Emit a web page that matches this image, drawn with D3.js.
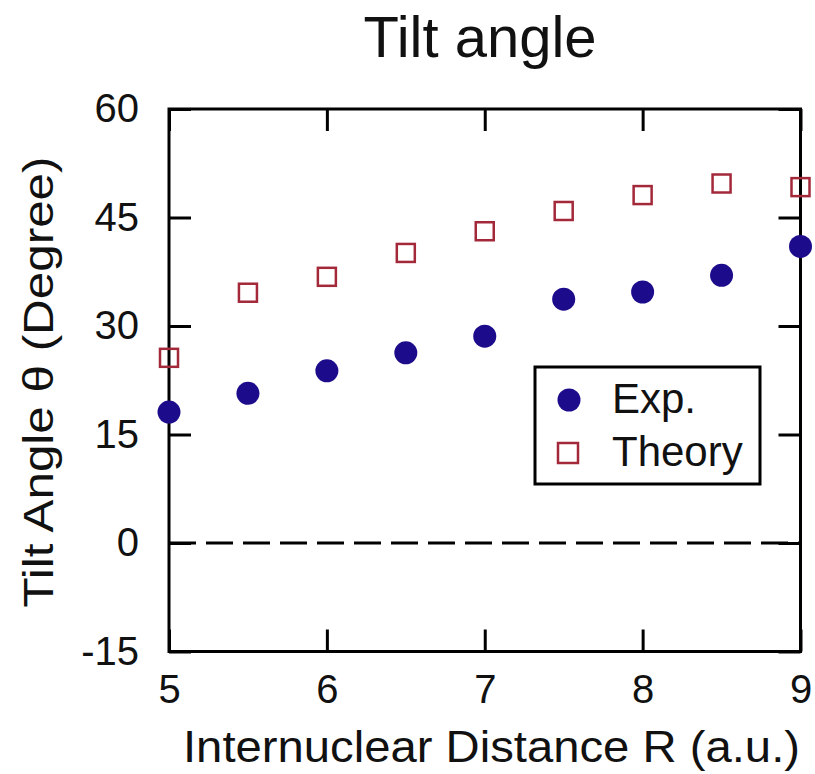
<!DOCTYPE html>
<html>
<head>
<meta charset="utf-8">
<script src="https://cdn.jsdelivr.net/npm/d3@7"></script>
<style>
  body { margin: 0; background: #fff; }
  svg text { font-family: "Liberation Sans", Arial, sans-serif; fill: #111; }
</style>
</head>
<body>
<div id="chart"></div>
<script>
// values
const distance = [5, 5.5, 6, 6.5, 7, 7.5, 8, 8.5, 9];
const expAngle = [18.1, 20.7, 23.8, 26.3, 28.6, 33.7, 34.7, 37.0, 41.0];
const theoryAngle = [25.6, 34.6, 36.8, 40.1, 43.1, 45.9, 48.1, 49.7, 49.2];
const xTicks = [5, 6, 7, 8, 9];
const yTicks = [-15, 0, 15, 30, 45, 60];

const width = 815, height = 774;
const plotLeft = 169, plotRight = 800.5, plotTop = 109, plotBottom = 651.5;

const svg = d3.select("#chart")
    .append("svg")
    .attr("width", width)
    .attr("height", height);

const x = d3.scaleLinear().domain([5, 9]).range([plotLeft, plotRight]);
const y = d3.scaleLinear().domain([-15, 60]).range([plotBottom, plotTop]);

// zero line
svg.append("line")
    .attr("x1", plotLeft).attr("x2", plotRight)
    .attr("y1", y(0)).attr("y2", y(0))
    .attr("stroke", "#000")
    .attr("stroke-width", 3)
    .attr("stroke-dasharray", "27,10");

// frame + inward ticks on all four sides
const tick = 22;
const plain = (d) => String(d);   // keep the ASCII hyphen in "-15"
function styleAxis(g) {
    g.selectAll("path.domain").remove();
    g.selectAll(".tick line").attr("stroke", "#000").attr("stroke-width", 3);
    g.selectAll(".tick text").attr("font-size", 40).attr("fill", "#111")
        .attr("font-family", "'Liberation Sans', Arial, sans-serif");
}

svg.append("g")
    .attr("transform", `translate(0,${plotBottom})`)
    .call(d3.axisBottom(x).tickValues(xTicks).tickFormat(plain)
        .tickSizeInner(-tick).tickSizeOuter(0).tickPadding(23))
    .call(styleAxis);

svg.append("g")
    .attr("transform", `translate(0,${plotTop})`)
    .call(d3.axisTop(x).tickValues(xTicks).tickFormat("")
        .tickSizeInner(-tick).tickSizeOuter(0))
    .call(styleAxis);

svg.append("g")
    .attr("transform", `translate(${plotLeft},0)`)
    .call(d3.axisLeft(y).tickValues(yTicks).tickFormat(plain)
        .tickSizeInner(-tick).tickSizeOuter(0).tickPadding(30))
    .call(styleAxis);

svg.append("g")
    .attr("transform", `translate(${plotRight},0)`)
    .call(d3.axisRight(y).tickValues(yTicks).tickFormat("")
        .tickSizeInner(-tick).tickSizeOuter(0))
    .call(styleAxis);

svg.append("rect")
    .attr("x", plotLeft).attr("y", plotTop)
    .attr("width", plotRight - plotLeft).attr("height", plotBottom - plotTop)
    .attr("fill", "none")
    .attr("stroke", "#000")
    .attr("stroke-width", 3);

const expColor = "#1c0c8c";
const theoryColor = "#a3283a";
const sq = 18;

// theory squares
svg.selectAll("rect.theory")
    .data(distance)
    .enter()
    .append("rect")
    .attr("class", "theory")
    .attr("x", (d) => x(d) - sq / 2)
    .attr("y", (d, i) => y(theoryAngle[i]) - sq / 2)
    .attr("width", sq).attr("height", sq)
    .attr("fill", "none")
    .attr("stroke", theoryColor)
    .attr("stroke-width", 2.5);

// experiment circles
svg.selectAll("circle.exp")
    .data(distance)
    .enter()
    .append("circle")
    .attr("class", "exp")
    .attr("cx", (d) => x(d))
    .attr("cy", (d, i) => y(expAngle[i]))
    .attr("r", 11.5)
    .attr("fill", expColor);

// legend
const legend = svg.append("g");
legend.append("rect")
    .attr("x", 535).attr("y", 367)
    .attr("width", 225).attr("height", 117)
    .attr("fill", "#fff")
    .attr("stroke", "#000")
    .attr("stroke-width", 3);
legend.append("circle")
    .attr("cx", 569).attr("cy", 400).attr("r", 11.5)
    .attr("fill", expColor);
legend.append("rect")
    .attr("x", 568 - 10).attr("y", 453 - 10)
    .attr("width", 20).attr("height", 20)
    .attr("fill", "none")
    .attr("stroke", theoryColor)
    .attr("stroke-width", 2.5);
legend.append("text")
    .attr("x", 612).attr("y", 413)
    .attr("font-size", 42)
    .text("Exp.");
legend.append("text")
    .attr("x", 612).attr("y", 466)
    .attr("font-size", 42)
    .text("Theory");

// titles
svg.append("text")
    .attr("x", 480).attr("y", 57)
    .attr("text-anchor", "middle")
    .attr("font-size", 58)
    .text("Tilt angle");

svg.append("text")
    .attr("x", 491.5).attr("y", 762)
    .attr("text-anchor", "middle")
    .attr("font-size", 44)
    .attr("textLength", 617)
    .attr("lengthAdjust", "spacingAndGlyphs")
    .text("Internuclear Distance R (a.u.)");

svg.append("text")
    .attr("transform", "translate(53,382) rotate(-90)")
    .attr("text-anchor", "middle")
    .attr("font-size", 42)
    .attr("textLength", 451)
    .attr("lengthAdjust", "spacingAndGlyphs")
    .text("Tilt Angle \u03b8 (Degree)");
</script>
</body>
</html>
